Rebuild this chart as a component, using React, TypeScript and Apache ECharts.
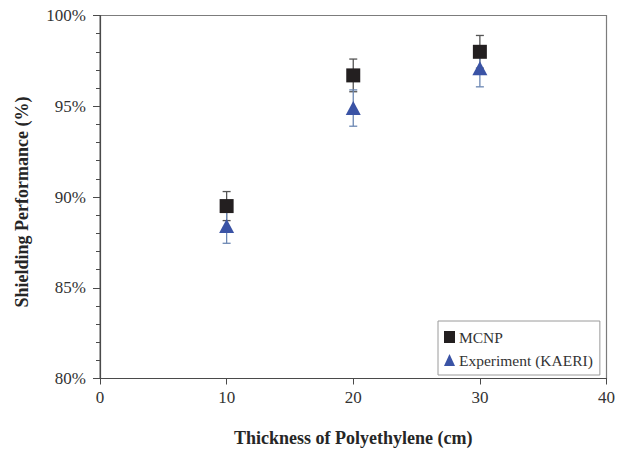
import React, { useEffect, useRef } from "react";
import * as echarts from "echarts";

// Polyethylene thickness (cm) and shielding performance (%)
const thickness = [10, 20, 30];
const mcnp = [89.5, 96.7, 98.0];
const mcnpErr = [0.8, 0.9, 0.9];
const experiment = [88.4, 94.9, 97.1];
const experimentErr = [0.95, 1.0, 1.03];
const yTicks = { min: 80, max: 100, interval: 5 };
const xTicks = { min: 0, max: 40, interval: 10 };

const SERIF = "Liberation Serif";

function errorBarSeries(name: string, values: number[], errs: number[], color: string) {
  const data = thickness.map((x, i) => [x, values[i] - errs[i], values[i] + errs[i]]);
  return {
    type: "custom",
    name: name + "-err",
    silent: true,
    z: 1,
    data,
    renderItem: (params: any, api: any) => {
      const x = api.value(0);
      const lo = api.coord([x, api.value(1)]);
      const hi = api.coord([x, api.value(2)]);
      const half = 4;
      const style = { stroke: color, lineWidth: 1.3 };
      return {
        type: "group",
        children: [
          { type: "line", shape: { x1: lo[0], y1: lo[1], x2: hi[0], y2: hi[1] }, style },
          { type: "line", shape: { x1: lo[0] - half, y1: lo[1], x2: lo[0] + half, y2: lo[1] }, style },
          { type: "line", shape: { x1: hi[0] - half, y1: hi[1], x2: hi[0] + half, y2: hi[1] }, style },
        ],
      };
    },
  };
}

export default function App() {
  const ref = useRef<HTMLDivElement>(null);

  useEffect(() => {
    if (!ref.current) return;
    const chart = echarts.init(ref.current, null, { renderer: "svg" });
    chart.setOption({
      animation: false,
      backgroundColor: "#ffffff",
      textStyle: { fontFamily: SERIF },
      grid: {
        left: 100,
        right: 16.5,
        top: 15.5,
        bottom: 70.5,
        outerBoundsMode: "none",
        containLabel: false,
        show: true,
        borderColor: "#7c7c7c",
        borderWidth: 1.2,
      },
      legend: {
        orient: "vertical",
        left: 438,
        top: 321,
        padding: [8, 7, 7, 6],
        itemGap: 7,
        itemWidth: 11,
        itemHeight: 12,
        borderColor: "#9a9a9a",
        borderWidth: 1,
        backgroundColor: "#ffffff",
        textStyle: { fontFamily: SERIF, fontSize: 15.5, color: "#333333", padding: [0, 0, 0, -1] },
        data: [
          { name: "MCNP", icon: "rect" },
          { name: "Experiment (KAERI)", icon: "triangle" },
        ],
      },
      xAxis: {
        type: "value",
        min: xTicks.min,
        max: xTicks.max,
        interval: xTicks.interval,
        name: "Thickness of Polyethylene (cm)",
        nameLocation: "middle",
        nameGap: 50,
        nameTextStyle: { fontFamily: SERIF, fontSize: 18, fontWeight: "bold", color: "#262626" },
        axisLine: { show: true, lineStyle: { color: "#4a4a4a", width: 1.2 } },
        axisTick: { show: true, length: 6, lineStyle: { color: "#4a4a4a" } },
        axisLabel: { fontFamily: SERIF, fontSize: 17, color: "#333333", margin: 10 },
        splitLine: { show: false },
      },
      yAxis: {
        type: "value",
        min: yTicks.min,
        max: yTicks.max,
        interval: yTicks.interval,
        name: "Shielding Performance (%)",
        nameLocation: "middle",
        nameGap: 69,
        nameTextStyle: {
          fontFamily: SERIF,
          fontSize: 18,
          fontWeight: "bold",
          color: "#262626",
          padding: [0, 10, 0, 0],
        },
        axisLine: { show: true, lineStyle: { color: "#4a4a4a", width: 1.2 } },
        axisTick: { show: true, length: 7, lineStyle: { color: "#4a4a4a" } },
        minorTick: { show: true, splitNumber: 5, length: 4, lineStyle: { color: "#4a4a4a" } },
        axisLabel: { fontFamily: SERIF, fontSize: 17, color: "#333333", margin: 14, formatter: "{value}%" },
        splitLine: { show: false },
      },
      series: [
        errorBarSeries("MCNP", mcnp, mcnpErr, "#555555"),
        errorBarSeries("Experiment (KAERI)", experiment, experimentErr, "#6b87b3"),
        {
          type: "scatter",
          name: "MCNP",
          z: 3,
          symbol: "rect",
          symbolSize: 14,
          itemStyle: { color: "#231f20", opacity: 1 },
          data: thickness.map((x, i) => [x, mcnp[i]]),
        },
        {
          type: "scatter",
          name: "Experiment (KAERI)",
          z: 3,
          symbol: "triangle",
          symbolSize: [15, 14],
          itemStyle: { color: "#3a53a5", opacity: 1 },
          data: thickness.map((x, i) => [x, experiment[i]]),
        },
      ],
    });
    return () => chart.dispose();
  }, []);

  return (
    <div
      ref={ref}
      style={{ position: "fixed", left: 0, top: 0, width: 623, height: 449 }}
    />
  );
}
